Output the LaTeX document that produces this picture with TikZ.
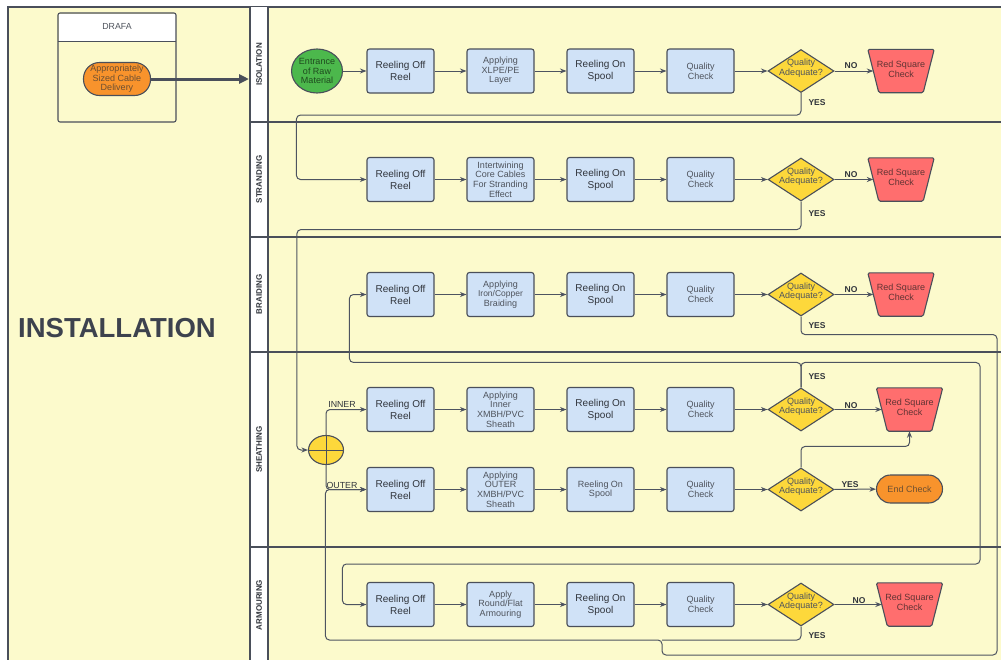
\documentclass[tikz,border=0pt]{standalone}
\usepackage{fontspec}
\setmainfont{Liberation Sans}
\usetikzlibrary{shapes.geometric,arrows.meta}

\definecolor{pool}{HTML}{FCFACC}
\definecolor{edge}{HTML}{4A4F5A}
\definecolor{wire}{HTML}{4D5360}
\definecolor{boxblue}{HTML}{D0E2F7}
\definecolor{gold}{HTML}{FDD83B}
\definecolor{rejred}{HTML}{FF6E6E}
\definecolor{orng}{HTML}{F8932C}
\definecolor{grn}{HTML}{4CB84C}
\definecolor{txtdark}{HTML}{30343B}
\definecolor{txtlight}{HTML}{4E535C}
\definecolor{titlegrey}{HTML}{3D424E}

\begin{document}
\begin{tikzpicture}[x=1pt,y=-1pt,
  proc/.style={rectangle, rounded corners=2.5pt, draw=edge, line width=1.1pt, fill=boxblue,
    minimum width=67pt, minimum height=44pt, inner sep=1pt, align=center},
  strong/.style={font=\fontsize{10}{12}\selectfont, text=txtdark},
  light/.style={font=\fontsize{9}{9.6}\selectfont, text=txtlight},
  decision/.style={diamond, draw=edge, line width=1.1pt, fill=gold,
    minimum width=66pt, minimum height=43pt, inner sep=0pt},
  dtext/.style={light, align=center, inner sep=0pt, yshift=3pt},
  % frame of a rejection step; the slanted outline is drawn from its corners
  reject/.style={rectangle, minimum width=66pt, minimum height=43pt, inner sep=0pt},
  rejshape/.style={draw=edge, line width=1.1pt, fill=rejred, rounded corners=1.5pt},
  rtext/.style={font=\fontsize{9}{9.6}\selectfont, text=black!70!red!60!gray, align=center,
    inner sep=0pt, yshift=2pt},
  terminal/.style={rectangle, draw=edge, line width=1.1pt, fill=orng, inner sep=0pt,
    align=center, text=black!60!orng!70!gray},
  yn/.style={font=\bfseries\fontsize{8.5}{10}\selectfont, text=txtdark, inner sep=0pt},
  arr/.style={draw=wire, line width=1pt, rounded corners=4pt,
    -{Stealth[length=6.5pt,width=5pt]}},
  wireline/.style={draw=wire, line width=1pt, rounded corners=4pt},
  lanelabel/.style={font=\bfseries\fontsize{8}{9}\selectfont, text=txtdark, rotate=90, inner sep=0pt},
  gateway/.style={ellipse, draw=edge, line width=1.1pt, fill=gold, minimum width=35pt,
    minimum height=29pt, inner sep=0pt,
    path picture={\draw[edge, line width=1pt]
      (path picture bounding box.north) -- (path picture bounding box.south)
      (path picture bounding box.west) -- (path picture bounding box.east);}}
]
\useasboundingbox (0,0) rectangle (1001,659);
\clip (0,0) rectangle (1001,659);
\fill[white] (0,0) rectangle (1001,659);

% pool and swimlanes
\fill[pool] (8,7) rectangle (1020,680);
\draw[edge, line width=1.2pt] (8,680) -- (8,7) -- (1020,7);
\fill[white] (250,7) rectangle (268,680);
\draw[edge, line width=1.2pt] (250,7) -- (250,680) (268,7) -- (268,680);
\foreach \yy in {122,237,352,547}
  \draw[edge, line width=1.2pt] (250,\yy) -- (1020,\yy);

\node[lanelabel] (lIso) at (259,64.5) {ISOLATION};
\node[lanelabel] (lStr) at (259,179.5) {STRANDING};
\node[lanelabel] (lBra) at (259,294.5) {BRAIDING};
\node[lanelabel] (lShe) at (259,449.5) {SHEATHING};
\node[lanelabel] (lArm) at (259,605) {ARMOURING};

% supplier block
\node[rectangle, fill=white, minimum width=117pt, minimum height=27pt, inner sep=0pt] (drafaHead) at (117,27.5) {};
\draw[edge, line width=1pt] (drafaHead.south west) -- (drafaHead.south east);
\node[rectangle, rounded corners=2pt, draw=edge, line width=1.1pt, minimum width=118pt,
  minimum height=109pt, inner sep=0pt] (drafa) at (117,67.5) {};
\node[font=\fontsize{8.8}{10}\selectfont, text=txtlight, inner sep=0pt] (drafaT) at (117,26) {DRAFA};
\node[terminal, rounded corners=16pt, minimum width=67pt, minimum height=33pt,
  font=\fontsize{9}{9.5}\selectfont] (deliv) at (117,79)
  {Appropriately\\Sized Cable\\Delivery};
\coordinate (isoEntry) at (249,79);
\draw[edge, line width=3pt, -{Triangle[length=10pt,width=9pt]}] (deliv.east) -- (isoEntry);

\node[font=\bfseries\fontsize{27.5}{30}\selectfont, text=titlegrey, inner sep=0pt] (title) at (117,328) {INSTALLATION};

% ISOLATION
\node[ellipse, draw=edge, line width=1.1pt, fill=grn, minimum width=48pt, minimum height=44pt,
  inner sep=0pt, align=center, font=\fontsize{9}{9.3}\selectfont, text=black!60!grn] (e1) at (317,71)
  {Entrance\\of Raw\\Material};
\node[proc,strong] (r1a) at (400.5,71) {Reeling Off\\Reel};
\node[proc,light] (a1) at (500.5,71) {Applying\\XLPE/PE\\Layer};
\node[proc,strong] (s1) at (600.5,71) {Reeling On\\Spool};
\node[proc,light] (q1) at (700.5,71) {Quality\\Check};
\node[decision] (d1) at (801,71) {};
\node[dtext] (d1t) at (d1) {Quality\\Adequate?};
\node[reject] (x1) at (901,71) {};

% STRANDING
\node[proc,strong] (r2a) at (400.5,179.5) {Reeling Off\\Reel};
\node[proc,light] (a2) at (500.5,179.5) {Intertwining\\Core Cables\\For Stranding\\Effect};
\node[proc,strong] (s2) at (600.5,179.5) {Reeling On\\Spool};
\node[proc,light] (q2) at (700.5,179.5) {Quality\\Check};
\node[decision] (d2) at (801,179.5) {};
\node[dtext] (d2t) at (d2) {Quality\\Adequate?};
\node[reject] (x2) at (901,179.5) {};

% BRAIDING
\node[proc,strong] (r3a) at (400.5,294.5) {Reeling Off\\Reel};
\node[proc,light] (a3) at (500.5,294.5) {Applying\\{\fontsize{8.5}{9.6}\selectfont Iron/Copper}\\Braiding};
\node[proc,strong] (s3) at (600.5,294.5) {Reeling On\\Spool};
\node[proc,light] (q3) at (700.5,294.5) {Quality\\Check};
\node[decision] (d3) at (801,294.5) {};
\node[dtext] (d3t) at (d3) {Quality\\Adequate?};
\node[reject] (x3) at (901,294.5) {};

% SHEATHING
\node[gateway] (gw) at (326,450) {};
\node[proc,strong] (r4a) at (400.5,409.5) {Reeling Off\\Reel};
\node[proc,light] (a4) at (500.5,409.5) {Applying\\Inner\\XMBH/PVC\\Sheath};
\node[proc,strong] (s4) at (600.5,409.5) {Reeling On\\Spool};
\node[proc,light] (q4) at (700.5,409.5) {Quality\\Check};
\node[decision] (d4) at (801,409.5) {};
\node[dtext] (d4t) at (d4) {Quality\\Adequate?};
\node[reject] (x4) at (909.5,409.5) {};

\node[proc,strong] (r5a) at (400.5,489.5) {Reeling Off\\Reel};
\node[proc,light] (a5) at (500.5,489.5) {Applying\\OUTER\\XMBH/PVC\\Sheath};
\node[proc,light] (s5) at (600.5,489.5) {Reeling On\\Spool};
\node[proc,light] (q5) at (700.5,489.5) {Quality\\Check};
\node[decision] (d5) at (801,489.5) {};
\node[dtext] (d5t) at (d5) {Quality\\Adequate?};
\node[terminal, rounded corners=14pt, minimum width=66pt, minimum height=28pt,
  font=\fontsize{9}{10}\selectfont] (endc) at (909.5,489) {End Check};

% ARMOURING
\node[proc,strong] (r6a) at (400.5,604.5) {Reeling Off\\Reel};
\node[proc,light] (a6) at (500.5,604.5) {Apply\\Round/Flat\\Armouring};
\node[proc,strong] (s6) at (600.5,604.5) {Reeling On\\Spool};
\node[proc,light] (q6) at (700.5,604.5) {Quality\\Check};
\node[decision] (d6) at (801,604.5) {};
\node[dtext] (d6t) at (d6) {Quality\\Adequate?};
\node[reject] (x6) at (909.5,604.5) {};

% rejection steps: wide at the top, narrow at the bottom
\foreach \r in {x1,x2,x3,x4,x6} {
  \filldraw[rejshape] (\r.north west) -- (\r.north east)
    -- ([xshift=-11pt]\r.south east) -- ([xshift=11pt]\r.south west) -- cycle;
  \node[rtext] (\r t) at (\r) {Red Square\\Check};
}

% branch labels
\node[yn] (yes1) at (817,103) {YES};
\node[yn] (no1) at (851,66) {NO};
\node[yn] (yes2) at (817,214) {YES};
\node[yn] (no2) at (851,175) {NO};
\node[yn] (yes3) at (817,326) {YES};
\node[yn] (no3) at (851,290) {NO};
\node[yn] (yes4) at (817,377) {YES};
\node[yn] (no4) at (851,406) {NO};
\node[yn] (yes5) at (850,485) {YES};
\node[yn] (yes6) at (817,636) {YES};
\node[yn] (no6) at (859,601) {NO};
\node[font=\fontsize{8.8}{10}\selectfont, text=txtdark, inner sep=0pt] (innerL) at (342,404.5) {INNER};
\node[font=\fontsize{8.8}{10}\selectfont, text=txtdark, inner sep=0pt] (outerL) at (342,485) {OUTER};

% straight flows along each row
\foreach \u/\v in {e1/r1a, r1a/a1, a1/s1, s1/q1, q1/d1,
                   r2a/a2, a2/s2, s2/q2, q2/d2,
                   r3a/a3, a3/s3, s3/q3, q3/d3,
                   r4a/a4, a4/s4, s4/q4, q4/d4,
                   r5a/a5, a5/s5, s5/q5, q5/d5, d5/endc,
                   r6a/a6, a6/s6, s6/q6, q6/d6}
  \draw[arr] (\u) -- (\v);
\foreach \u/\v in {d1/x1, d2/x2, d3/x3, d4/x4, d6/x6}
  \draw[arr] (\u.east) -- ([xshift=5.5pt]\v.west);

% bend points of the long return lines
\coordinate (k1) at (980,564);
\coordinate (k2) at (997,655);
\coordinate (k3) at (662,640);

% lane-to-lane flows
\draw[arr] (d1.south) -- ++(0,22) -| ([xshift=-70pt]r2a.west) -- (r2a.west);
\draw[arr] (d2.south) -- ++(0,28) -| ([xshift=-11pt]gw.west) -- (gw.west);
\draw[arr] (gw.north) |- (r4a.west);
\draw[arr] (gw.south) |- (r5a.west);
\draw[arr] (d4.north) -- ++(0,-25) -| ([xshift=-17pt]r3a.west) -- (r3a.west);
\draw[arr] (d4.north) -- ++(0,-25) -| (k1) -| ([xshift=-24pt]r6a.west) -- (r6a.west);
\draw[arr] (d3.south) -- ++(0,18) -| (k2) -| (k3) -| ([xshift=-41pt]r5a.west) -- (r5a.west);
\draw[wireline] (d6.south) |- (k3);
\draw[arr] (d5.north) -- ++(0,-21) -| (x4.south);
\end{tikzpicture}
\end{document}
